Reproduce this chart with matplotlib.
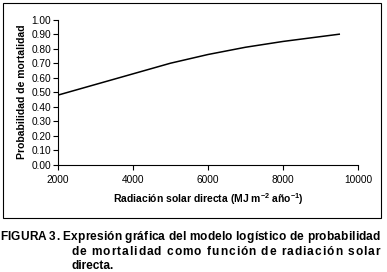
import matplotlib.pyplot as plt
from matplotlib.patches import Rectangle

plt.rcParams['font.family'] = ['Liberation Sans', 'DejaVu Sans']
plt.rcParams['mathtext.fontset'] = 'custom'
plt.rcParams['mathtext.rm'] = 'Liberation Sans'
plt.rcParams['mathtext.bf'] = 'Liberation Sans:bold'

radiacion = [2000, 3500, 5000, 6000, 7000, 8000, 9500]
probabilidad = [0.48, 0.59, 0.70, 0.76, 0.81, 0.85, 0.90]

xticks = [2000, 4000, 6000, 8000, 10000]
yticks = [0.0, 0.1, 0.2, 0.3, 0.4, 0.5, 0.6, 0.7, 0.8, 0.9, 1.0]

caption = ['FIGURA 3. Expresión gráfica del modelo logístico de probabilidad',
           'de mortalidad como función de radiación solar',
           'directa.']

W, H = 387, 272
fig = plt.figure(figsize=(W / 100, H / 100), dpi=100)

# outer frame around the chart
fig.patches.append(Rectangle((3 / W, 1 - 218 / H), 378 / W, 215 / H,
                             transform=fig.transFigure, fill=False,
                             edgecolor='black', linewidth=0.8))

ax = fig.add_axes([58 / W, 1 - 164.7 / H, 300 / W, 145 / H])
ax.plot(radiacion, probabilidad, color='black', linewidth=1.1)
ax.set_xlim(2000, 10000)
ax.set_ylim(0, 1)
ax.set_xticks(xticks)
ax.set_yticks(yticks)
ax.set_yticklabels(['%.2f' % v for v in yticks])
ax.spines['top'].set_visible(False)
ax.spines['right'].set_visible(False)
for s in ['left', 'bottom']:
    ax.spines[s].set_linewidth(0.8)
ax.tick_params(direction='out', length=3.5, width=0.8, labelsize=7.3,
               colors='black')
ax.tick_params(axis='y', pad=1.5)
ax.tick_params(axis='x', pad=4)

fig.text(22 / W, 1 - 92 / H, 'Probabilidad de mortalidad', rotation=90,
         ha='center', va='center', fontsize=7.5, fontweight='bold')
fig.text(208 / W, 1 - 199 / H,
         r'Radiación solar directa (MJ m$^{\mathbf{-2}}$ año$^{\mathbf{-1}}$)',
         ha='center', va='center', fontsize=7.5, fontweight='bold')

r = fig.canvas.get_renderer()


def text_w(s, size):
    t = fig.text(0, 0, s, fontsize=size, fontweight='bold')
    w = t.get_window_extent(r).width
    t.remove()
    return w


def justified(txt, x0, x1, y, size):
    # spread the characters of one line evenly between x0 and x1 (pixels)
    wx = text_w('X', size)
    starts = [text_w(txt[:i] + 'X', size) - wx for i in range(len(txt))]
    natural = text_w(txt + 'X', size) - wx
    extra = (x1 - x0 - natural) / (len(txt) - 1)
    for i, ch in enumerate(txt):
        if ch == ' ':
            continue
        fig.text((x0 + starts[i] + extra * i) / W, 1 - y / H, ch,
                 ha='left', va='center', fontsize=size, fontweight='bold')


justified(caption[0], 0, 380, 237, 8.6)
justified(caption[1], 71, 380, 252, 8.6)
fig.text(71 / W, 1 - 266 / H, caption[2],
         ha='left', va='center', fontsize=8.6, fontweight='bold')

fig.savefig('out.png', dpi=100)
